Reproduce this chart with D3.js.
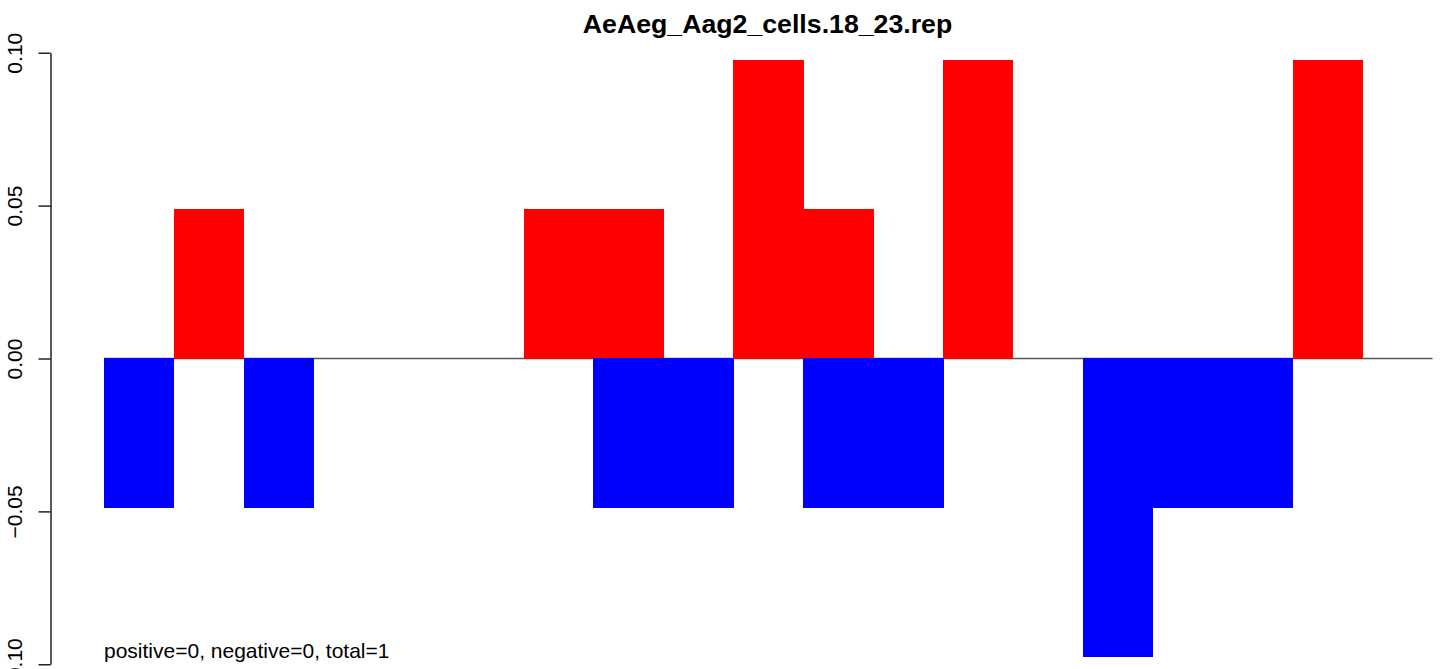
<!DOCTYPE html>
<html>
<head>
<meta charset="utf-8">
<script src="https://cdn.jsdelivr.net/npm/d3@7"></script>
<style>
  html, body { margin: 0; padding: 0; background: #fff; }
  svg { display: block; font-family: "Liberation Sans", Arial, Helvetica, sans-serif; }
</style>
</head>
<body>
<svg id="chart" width="1444" height="669"></svg>
<script>
// ---- data ----
const categories = ["1","2","3","4","5","6","7","8","9","10","11","12","13","14","15","16","17","18","19"];
const positiveValues = [0, 0.0488, 0, 0, 0, 0, 0.0488, 0.0488, 0, 0.0976, 0.0488, 0, 0.0976, 0, 0, 0, 0, 0.0976, 0];
const negativeValues = [-0.0488, 0, -0.0488, 0, 0, 0, 0, -0.0488, -0.0488, 0, -0.0488, -0.0488, 0, 0, -0.0976, -0.0488, -0.0488, 0, 0];
const yTicks = [-0.10, -0.05, 0.00, 0.05, 0.10];
const titleText = "AeAeg_Aag2_cells.18_23.rep";
const noteText = "positive=0, negative=0, total=1";

// ---- layout ----
const svg = d3.select("#chart");
const x = d3.scaleBand().domain(categories).range([104, 1432.5]).padding(0);
const y = d3.scaleLinear().domain([-0.1, 0.1]).range([664.3, 52.7]);

// zero line (behind bars)
svg.append("line")
  .attr("x1", x.range()[0]).attr("x2", x.range()[1])
  .attr("y1", y(0)).attr("y2", y(0))
  .attr("stroke", "#555").attr("stroke-width", 1.3);

// positive bars
svg.append("g").attr("shape-rendering", "crispEdges").selectAll("rect")
  .data(categories.map((c, i) => ({c, v: positiveValues[i]})).filter(d => d.v !== 0))
  .join("rect")
  .attr("x", d => x(d.c))
  .attr("width", x.bandwidth() + 0.5)
  .attr("y", d => y(d.v))
  .attr("height", d => y(0) - y(d.v))
  .attr("fill", "#ff0000");

// negative bars
svg.append("g").attr("shape-rendering", "crispEdges").selectAll("rect")
  .data(categories.map((c, i) => ({c, v: negativeValues[i]})).filter(d => d.v !== 0))
  .join("rect")
  .attr("x", d => x(d.c))
  .attr("width", x.bandwidth() + 0.5)
  .attr("y", y(0) - 1)
  .attr("height", d => y(d.v) - y(0) + 1)
  .attr("fill", "#0000ff");

// y axis
const axis = d3.axisLeft(y).tickValues(yTicks).tickFormat(d3.format(".2f")).tickSize(12).tickSizeOuter(0);
const gy = svg.append("g").attr("transform", "translate(50.5,0)").call(axis);
gy.select(".domain").attr("stroke", "#000").attr("stroke-width", 1.3);
gy.selectAll(".tick line").attr("stroke", "#000").attr("stroke-width", 1.3);
gy.selectAll(".tick text")
  .attr("font-size", 21)
  .attr("font-family", "'Liberation Sans', Arial, sans-serif")
  .attr("fill", "#000")
  .attr("x", null).attr("dy", null)
  .attr("text-anchor", "middle")
  .attr("transform", "translate(-28.5,0) rotate(-90)");

// title
svg.append("text")
  .attr("x", 767.5).attr("y", 33)
  .attr("text-anchor", "middle")
  .attr("font-size", 26.7)
  .attr("font-weight", "bold")
  .attr("fill", "#000")
  .text(titleText);

// note
svg.append("text")
  .attr("x", 104).attr("y", 658)
  .attr("font-size", 21)
  .attr("fill", "#000")
  .text(noteText);
</script>
</body>
</html>
